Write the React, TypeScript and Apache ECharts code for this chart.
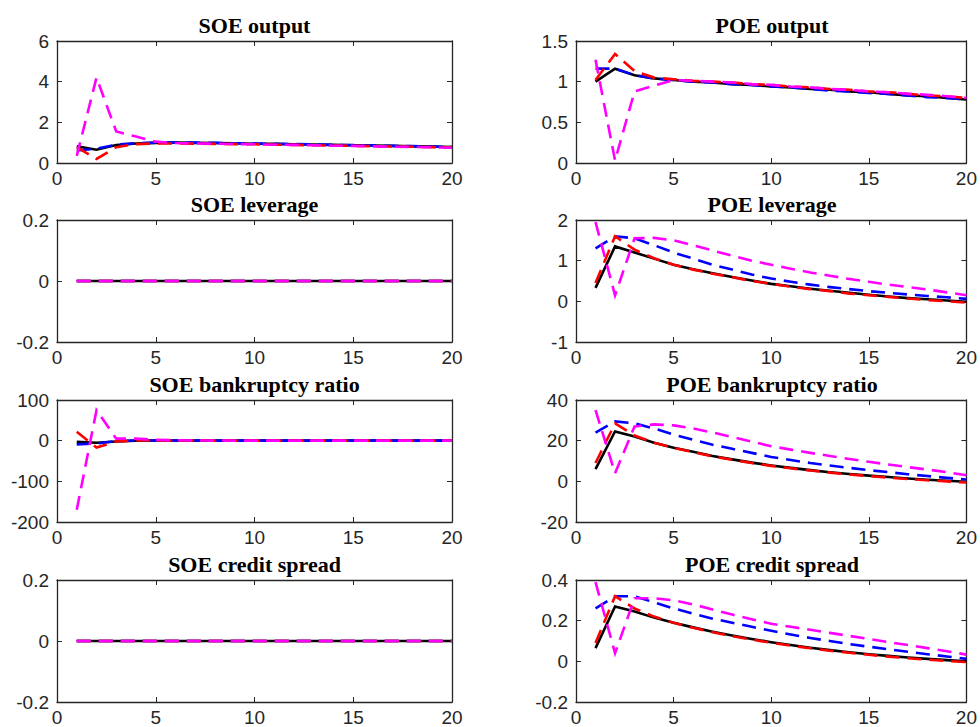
import React, { useEffect, useRef } from "react";
import * as echarts from "echarts";

const periods = [1, 2, 3, 4, 5, 6, 7, 8, 9, 10, 11, 12, 13, 14, 15, 16, 17, 18, 19, 20];

// SOE output
const soeOutputBlack = [0.82, 0.65, 0.88, 0.96, 0.99, 1.0, 0.99, 0.98, 0.97, 0.95, 0.94, 0.92, 0.91, 0.89, 0.87, 0.86, 0.84, 0.82, 0.81, 0.79];
const soeOutputBlue = [0.62, 0.7, 0.9, 0.97, 1.0, 1.01, 1.0, 0.99, 0.97, 0.96, 0.94, 0.93, 0.91, 0.89, 0.88, 0.86, 0.84, 0.83, 0.81, 0.79];
const soeOutputRed = [0.78, 0.2, 0.78, 0.93, 0.96, 0.96, 0.95, 0.94, 0.93, 0.92, 0.9, 0.89, 0.87, 0.86, 0.84, 0.83, 0.81, 0.8, 0.78, 0.77];
const soeOutputMagenta = [0.35, 4.2, 1.55, 1.3, 1.05, 0.98, 0.96, 0.95, 0.93, 0.92, 0.9, 0.89, 0.87, 0.85, 0.84, 0.82, 0.8, 0.79, 0.77, 0.75];

// POE output
const poeOutputBlack = [1.0, 1.16, 1.08, 1.04, 1.02, 1.0, 0.99, 0.97, 0.96, 0.94, 0.93, 0.91, 0.9, 0.88, 0.87, 0.85, 0.83, 0.82, 0.8, 0.78];
const poeOutputBlue = [1.16, 1.16, 1.08, 1.04, 1.02, 1.0, 0.99, 0.97, 0.96, 0.94, 0.93, 0.91, 0.89, 0.88, 0.86, 0.85, 0.83, 0.81, 0.8, 0.78];
const poeOutputRed = [1.02, 1.34, 1.13, 1.05, 1.03, 1.01, 1.0, 0.99, 0.97, 0.96, 0.94, 0.93, 0.91, 0.9, 0.88, 0.87, 0.85, 0.83, 0.82, 0.8];
const poeOutputMagenta = [1.27, 0.03, 0.88, 0.95, 1.02, 1.01, 1.0, 0.99, 0.97, 0.96, 0.94, 0.93, 0.91, 0.9, 0.88, 0.87, 0.85, 0.84, 0.82, 0.8];

// SOE leverage
const soeLeverageBlack = [0, 0, 0, 0, 0, 0, 0, 0, 0, 0, 0, 0, 0, 0, 0, 0, 0, 0, 0, 0];
const soeLeverageBlue = [0, 0, 0, 0, 0, 0, 0, 0, 0, 0, 0, 0, 0, 0, 0, 0, 0, 0, 0, 0];
const soeLeverageRed = [0, 0, 0, 0, 0, 0, 0, 0, 0, 0, 0, 0, 0, 0, 0, 0, 0, 0, 0, 0];
const soeLeverageMagenta = [0, 0, 0, 0, 0, 0, 0, 0, 0, 0, 0, 0, 0, 0, 0, 0, 0, 0, 0, 0];

// POE leverage
const poeLeverageBlack = [0.33, 1.35, 1.2, 1.05, 0.9, 0.79, 0.69, 0.6, 0.51, 0.43, 0.37, 0.31, 0.26, 0.21, 0.16, 0.12, 0.08, 0.05, 0.02, -0.01];
const poeLeverageBlue = [1.3, 1.6, 1.55, 1.38, 1.2, 1.05, 0.9, 0.78, 0.66, 0.56, 0.48, 0.41, 0.35, 0.3, 0.25, 0.21, 0.17, 0.13, 0.1, 0.06];
const poeLeverageRed = [0.45, 1.6, 1.27, 1.06, 0.9, 0.78, 0.68, 0.59, 0.5, 0.43, 0.36, 0.3, 0.25, 0.19, 0.15, 0.11, 0.07, 0.03, 0.0, -0.03];
const poeLeverageMagenta = [1.95, 0.15, 1.55, 1.56, 1.5, 1.38, 1.25, 1.12, 1.0, 0.9, 0.8, 0.71, 0.63, 0.55, 0.48, 0.41, 0.35, 0.29, 0.22, 0.15];

// SOE bankruptcy ratio
const soeBankruptcyBlack = [-3, -5, -2, 0, 0.5, 0.5, 0.3, 0.2, 0.1, 0, 0, 0, 0, 0, 0, 0, 0, 0, 0, 0];
const soeBankruptcyBlue = [-9, -7, -1, 0.5, 0.5, 0.4, 0.3, 0.2, 0.1, 0, 0, 0, 0, 0, 0, 0, 0, 0, 0, 0];
const soeBankruptcyRed = [22, -17, -2, 0.5, 0.5, 0.4, 0.3, 0.2, 0.1, 0, 0, 0, 0, 0, 0, 0, 0, 0, 0, 0];
const soeBankruptcyMagenta = [-170, 75, 5, 5, 2, 1, 0.5, 0.3, 0.2, 0.1, 0, 0, 0, 0, 0, 0, 0, 0, 0, 0];

// POE bankruptcy ratio
const poeBankruptcyBlack = [6, 24.5, 22, 19, 16.5, 14.5, 12.5, 10.8, 9.2, 7.8, 6.6, 5.5, 4.5, 3.6, 2.8, 2.1, 1.4, 0.8, 0.3, -0.2];
const poeBankruptcyBlue = [24, 29.5, 28.5, 26, 23, 20.5, 18, 16, 14, 12, 10.5, 9, 7.8, 6.6, 5.5, 4.5, 3.5, 2.6, 1.7, 0.9];
const poeBankruptcyRed = [9, 28.5, 22.5, 19, 16.5, 14.3, 12.3, 10.6, 9.0, 7.6, 6.4, 5.3, 4.3, 3.4, 2.6, 1.8, 1.1, 0.5, 0, -0.6];
const poeBankruptcyMagenta = [35, 4, 27, 28, 27.5, 26, 24, 21.8, 19.5, 17.3, 15.6, 14, 12.5, 11, 9.6, 8.3, 7, 5.8, 4.5, 3.0];

// SOE credit spread
const soeSpreadBlack = [0, 0, 0, 0, 0, 0, 0, 0, 0, 0, 0, 0, 0, 0, 0, 0, 0, 0, 0, 0];
const soeSpreadBlue = [0, 0, 0, 0, 0, 0, 0, 0, 0, 0, 0, 0, 0, 0, 0, 0, 0, 0, 0, 0];
const soeSpreadRed = [0, 0, 0, 0, 0, 0, 0, 0, 0, 0, 0, 0, 0, 0, 0, 0, 0, 0, 0, 0];
const soeSpreadMagenta = [0, 0, 0, 0, 0, 0, 0, 0, 0, 0, 0, 0, 0, 0, 0, 0, 0, 0, 0, 0];

// POE credit spread
const poeSpreadBlack = [0.065, 0.27, 0.245, 0.215, 0.19, 0.167, 0.146, 0.127, 0.11, 0.094, 0.08, 0.067, 0.055, 0.045, 0.035, 0.027, 0.019, 0.012, 0.006, 0.0];
const poeSpreadBlue = [0.26, 0.32, 0.32, 0.29, 0.26, 0.235, 0.21, 0.19, 0.17, 0.15, 0.132, 0.115, 0.1, 0.085, 0.072, 0.059, 0.047, 0.035, 0.024, 0.012];
const poeSpreadRed = [0.09, 0.32, 0.26, 0.22, 0.19, 0.165, 0.143, 0.124, 0.107, 0.091, 0.077, 0.064, 0.052, 0.042, 0.032, 0.023, 0.015, 0.008, 0.002, -0.004];
const poeSpreadMagenta = [0.39, 0.04, 0.31, 0.31, 0.3, 0.28, 0.255, 0.23, 0.207, 0.185, 0.17, 0.155, 0.14, 0.125, 0.11, 0.095, 0.08, 0.065, 0.05, 0.033];

const panelTitles = [
  "SOE output", "POE output",
  "SOE leverage", "POE leverage",
  "SOE bankruptcy ratio", "POE bankruptcy ratio",
  "SOE credit spread", "POE credit spread",
];
const yMins = [0, 0, -0.2, -1, -200, -20, -0.2, -0.2];
const yMaxs = [6, 1.5, 0.2, 2, 100, 40, 0.2, 0.4];
const yIntervals = [2, 0.5, 0.2, 1, 100, 20, 0.2, 0.2];
const panelSeries = [
  [soeOutputBlack, soeOutputBlue, soeOutputRed, soeOutputMagenta],
  [poeOutputBlack, poeOutputBlue, poeOutputRed, poeOutputMagenta],
  [soeLeverageBlack, soeLeverageBlue, soeLeverageRed, soeLeverageMagenta],
  [poeLeverageBlack, poeLeverageBlue, poeLeverageRed, poeLeverageMagenta],
  [soeBankruptcyBlack, soeBankruptcyBlue, soeBankruptcyRed, soeBankruptcyMagenta],
  [poeBankruptcyBlack, poeBankruptcyBlue, poeBankruptcyRed, poeBankruptcyMagenta],
  [soeSpreadBlack, soeSpreadBlue, soeSpreadRed, soeSpreadMagenta],
  [poeSpreadBlack, poeSpreadBlue, poeSpreadRed, poeSpreadMagenta],
];

const lineColors = ["#000000", "#0000ff", "#ff0000", "#ff00ff"];
const lineDashed = [false, true, true, true];

const colLeft = [57, 576];
const colWidth = [395, 392];
const rowTop = [41, 220, 400, 580];
const gridHeight = 122;
const axisColor = "#262626";

function fmt(v: number) {
  const r = Math.round(v * 1000) / 1000;
  return String(r);
}

export default function App() {
  const ref = useRef<HTMLDivElement>(null);
  useEffect(() => {
    if (!ref.current) return;
    const chart = echarts.init(ref.current, undefined, { renderer: "svg" });
    const grid: any[] = [];
    const xAxis: any[] = [];
    const yAxis: any[] = [];
    const series: any[] = [];
    const graphic: any[] = [];
    panelTitles.forEach((title, i) => {
      const col = i % 2;
      const row = Math.floor(i / 2);
      const left = colLeft[col];
      const top = rowTop[row];
      const width = colWidth[col];
      grid.push({ left, top, width, height: gridHeight, containLabel: false });
      const tick = { show: true, inside: true, length: 5, lineStyle: { color: axisColor, width: 1 } };
      const line = { show: true, onZero: false, lineStyle: { color: axisColor, width: 1.3 } };
      xAxis.push({
        type: "value", gridIndex: i, position: "bottom", min: 0, max: 20, interval: 5,
        axisLine: line, axisTick: tick, splitLine: { show: false },
        axisLabel: { show: true, fontSize: 19, color: axisColor, fontFamily: "Liberation Sans", margin: 6, formatter: fmt },
      });
      xAxis.push({
        type: "value", gridIndex: i, position: "top", min: 0, max: 20, interval: 5,
        axisLine: line, axisTick: tick, splitLine: { show: false }, axisLabel: { show: false },
      });
      yAxis.push({
        type: "value", gridIndex: i, position: "left", min: yMins[i], max: yMaxs[i], interval: yIntervals[i],
        axisLine: line, axisTick: tick, splitLine: { show: false },
        axisLabel: { show: true, fontSize: 19, color: axisColor, fontFamily: "Liberation Sans", margin: 8, formatter: fmt },
      });
      yAxis.push({
        type: "value", gridIndex: i, position: "right", min: yMins[i], max: yMaxs[i], interval: yIntervals[i],
        axisLine: line, axisTick: tick, splitLine: { show: false }, axisLabel: { show: false },
      });
      panelSeries[i].forEach((vals, k) => {
        series.push({
          type: "line",
          xAxisIndex: i * 2,
          yAxisIndex: i * 2,
          data: periods.map((p, j) => [p, vals[j]]),
          symbol: "none",
          silent: true,
          lineStyle: {
            color: lineColors[k],
            width: 2.6,
            type: lineDashed[k] ? [14, 8] : "solid",
            cap: "butt",
            join: "miter",
          },
          z: 2 + k,
        });
      });
      graphic.push({
        type: "text",
        x: left + width / 2,
        y: top - 5,
        style: {
          text: title,
          textAlign: "center",
          textVerticalAlign: "bottom",
          fontFamily: "Liberation Serif",
          fontWeight: "bold",
          fontSize: 22,
          fill: "#000000",
        },
      });
    });
    chart.setOption({
      animation: false,
      backgroundColor: "#ffffff",
      grid,
      xAxis,
      yAxis,
      series,
      graphic,
    });
    return () => chart.dispose();
  }, []);
  return (
    <div
      ref={ref}
      style={{ position: "fixed", left: 0, top: 0, width: 980, height: 727 }}
    />
  );
}
